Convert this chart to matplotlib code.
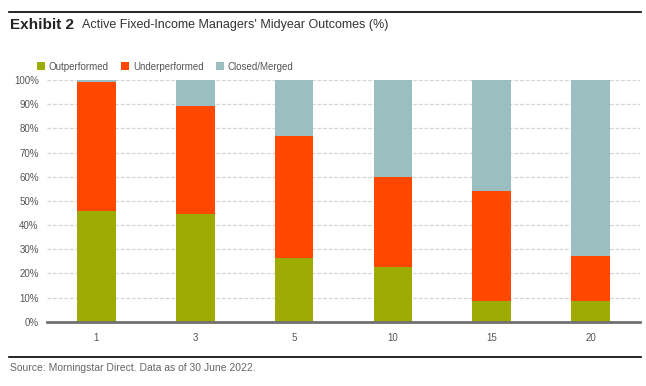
import numpy as np
import matplotlib.pyplot as plt
from matplotlib.lines import Line2D

plt.rcParams['font.family'] = ['Liberation Sans Narrow', 'Liberation Sans', 'DejaVu Sans']

categories = ['1', '3', '5', '10', '15', '20']
outperformed = [45.8, 44.4, 26.2, 22.6, 8.6, 8.6]
underperformed = [53.5, 44.8, 50.8, 37.1, 45.6, 18.7]
closed_merged = [0.7, 10.8, 23.0, 40.3, 45.8, 72.7]

c_out = '#9EAB05'
c_under = '#FF4700'
c_closed = '#9BBEC0'

fig = plt.figure(figsize=(6.46, 3.86), dpi=100)
ax = fig.add_axes([0.0728, 0.1666, 0.9179, 0.6261])

x = np.arange(len(categories))
w = 0.39
out = np.array(outperformed)
und = np.array(underperformed)
clo = np.array(closed_merged)
ax.bar(x, out, w, color=c_out, label='Outperformed', zorder=3)
ax.bar(x, und, w, bottom=out, color=c_under, label='Underperformed', zorder=3)
ax.bar(x, clo, w, bottom=out + und, color=c_closed, label='Closed/Merged', zorder=3)

ax.set_xlim(-0.5, len(categories) - 0.5)
ax.set_ylim(0, 100)
ax.set_yticks(range(0, 101, 10))
ax.set_yticklabels([f'{v}%' for v in range(0, 101, 10)], fontsize=7, color='#555555')
ax.set_xticks(x)
ax.set_xticklabels(categories, fontsize=7, color='#555555')
ax.tick_params(axis='both', length=0)
ax.tick_params(axis='x', pad=8)
ax.tick_params(axis='y', pad=6)
ax.yaxis.grid(True, color='#D5D5D5', linestyle=(0, (3, 1.5)), linewidth=0.9, zorder=0)
for s in ['top', 'right', 'left']:
    ax.spines[s].set_visible(False)
ax.spines['bottom'].set_color('#707070')
ax.spines['bottom'].set_linewidth(2)
ax.spines['bottom'].set_zorder(4)

leg = ax.legend(loc='lower left', bbox_to_anchor=(-0.017, 1.035), ncol=3, frameon=False,
                fontsize=7, handlelength=0.8, handleheight=0.8, handletextpad=0.4,
                columnspacing=1.3, borderaxespad=0, borderpad=0)
for t in leg.get_texts():
    t.set_color('#555555')

# top and bottom rules
fig.add_artist(Line2D([0.014, 0.993], [1 - 12 / 386, 1 - 12 / 386], color='black', linewidth=1.2))
fig.add_artist(Line2D([0.014, 0.993], [1 - 357 / 386, 1 - 357 / 386], color='black', linewidth=1.2))

fig.text(0.016, 1 - 25 / 386, 'Exhibit 2', fontsize=11, fontweight='bold', va='center', color='#222222')
fig.text(82 / 646, 1 - 25 / 386, "Active Fixed-Income Managers' Midyear Outcomes (%)", fontsize=9,
         va='center', color='#333333')
fig.text(0.016, 1 - 368 / 386, 'Source: Morningstar Direct. Data as of 30 June 2022.', fontsize=7.5,
         va='center', color='#666666')

fig.savefig('out.png', dpi=100)
